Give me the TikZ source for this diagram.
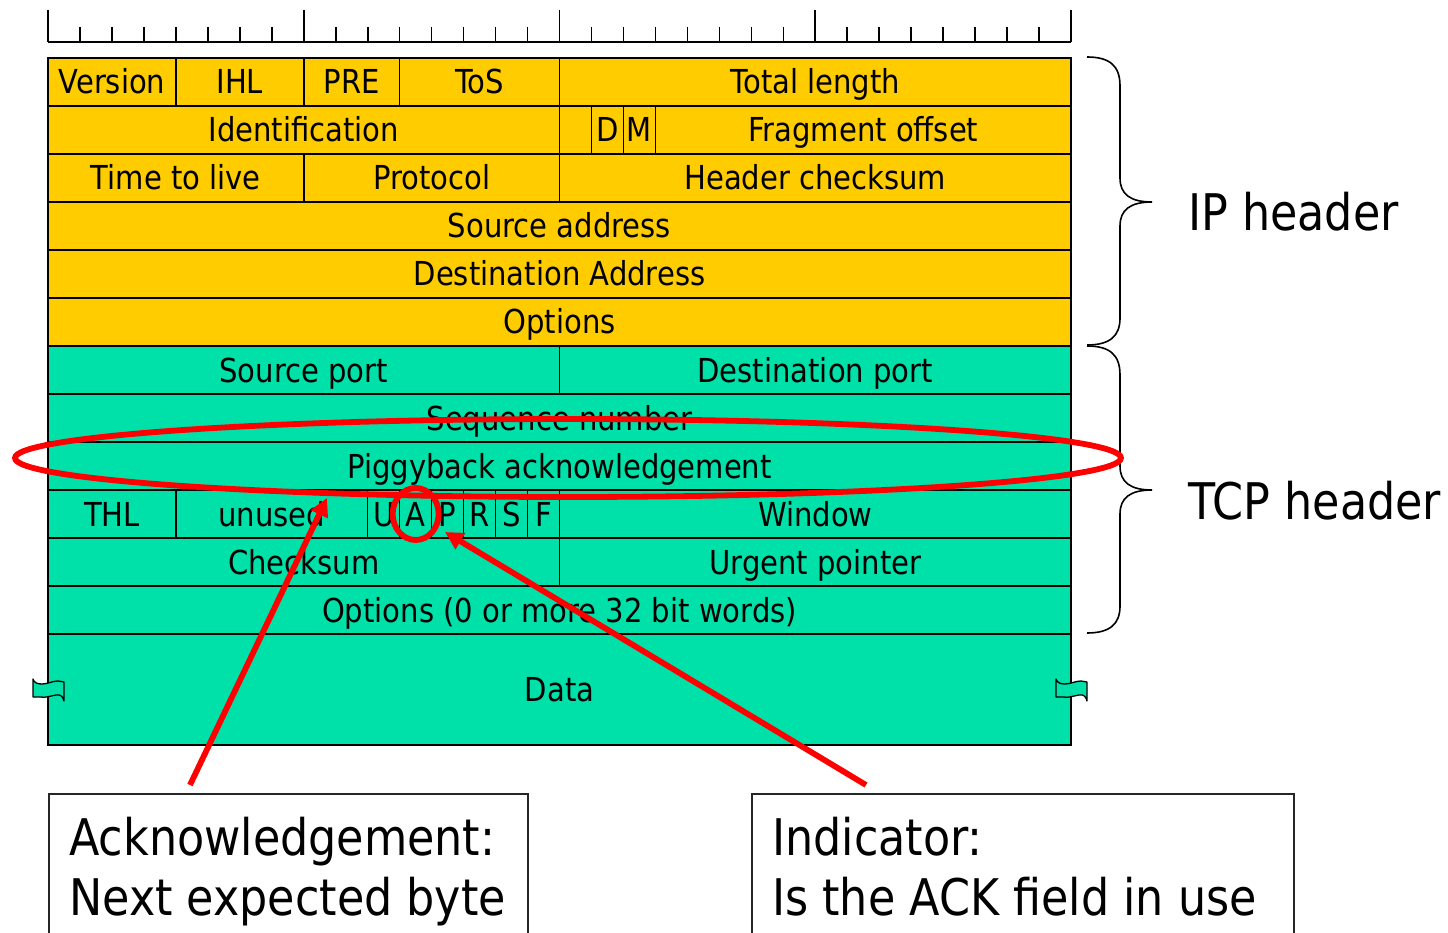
\documentclass[tikz,border=0pt]{standalone}
\usepackage{fontspec}
\setmainfont{DejaVu Sans}[FakeStretch=0.88]
\usetikzlibrary{arrows.meta,calc}
\definecolor{ipyellow}{HTML}{FFCC00}
\definecolor{tcpgreen}{HTML}{00E1AA}
\definecolor{markred}{HTML}{FF0000}
\newcommand\fieldfont{\fontsize{33}{38}\selectfont}
\newcommand\notefont{\fontsize{50.5}{60}\selectfont}
% one header field: name, first bit, last bit+1, row, fill, label
\newcommand\fld[6]{\node[field, fill=#5, minimum width={(#3-#2)*31.97pt}] (#1) at ({48+(#2+#3)*15.985},{82+48*#4}) {#6};}
\begin{document}
\begin{tikzpicture}[x=1pt,y=-1pt,
  field/.style={draw=black, line width=1.5pt, inner sep=0pt, minimum height=48pt,
    text height=24pt, text depth=0pt, font=\fieldfont},
  notebox/.style={draw=black!85, line width=1.5pt, inner sep=0pt},
  notetext/.style={font=\notefont, inner sep=0pt, anchor=base west},
  bracepath/.style={draw=black, line width=1.6pt},
  ruler/.style={draw=black, line width=1.6pt},
  redline/.style={draw=markred, line width=5.8pt},
  redarrow/.style={draw=markred, line width=5.8pt, -{Triangle[length=18pt,width=18pt]}},
  breakmark/.style={draw=black, fill=tcpgreen, line width=1.3pt, line join=round}]
\useasboundingbox (0,0) rectangle (1448,933);

% bit ruler
\draw[ruler] (48,42) -- (1071,42);
\foreach \b in {1,...,31}{\draw[ruler] ({48+\b*31.97},27) -- ({48+\b*31.97},42);}
\foreach \b in {0,8,16,24,32}{\draw[ruler] ({48+\b*31.97},10) -- ({48+\b*31.97},42);}

% IP header
\fld{ver}{0}{4}{0}{ipyellow}{Version}
\fld{ihl}{4}{8}{0}{ipyellow}{IHL}
\fld{pre}{8}{11}{0}{ipyellow}{PRE}
\fld{tos}{11}{16}{0}{ipyellow}{ToS}
\fld{tlen}{16}{32}{0}{ipyellow}{Total length}
\fld{ident}{0}{16}{1}{ipyellow}{Identification}
\fld{rsv}{16}{17}{1}{ipyellow}{}
\fld{dflag}{17}{18}{1}{ipyellow}{D}
\fld{mflag}{18}{19}{1}{ipyellow}{M}
\fld{frag}{19}{32}{1}{ipyellow}{Fragment offset}
\fld{ttl}{0}{8}{2}{ipyellow}{Time to live}
\fld{proto}{8}{16}{2}{ipyellow}{Protocol}
\fld{hcs}{16}{32}{2}{ipyellow}{Header checksum}
\fld{src}{0}{32}{3}{ipyellow}{Source address}
\fld{dst}{0}{32}{4}{ipyellow}{Destination Address}
\fld{ipopt}{0}{32}{5}{ipyellow}{Options}

% TCP header
\fld{sport}{0}{16}{6}{tcpgreen}{Source port}
\fld{dport}{16}{32}{6}{tcpgreen}{Destination port}
\fld{seq}{0}{32}{7}{tcpgreen}{Sequence number}
\fld{ack}{0}{32}{8}{tcpgreen}{Piggyback acknowledgement}
\fld{thl}{0}{4}{9}{tcpgreen}{THL}
\fld{unused}{4}{10}{9}{tcpgreen}{unused}
\fld{urg}{10}{11}{9}{tcpgreen}{U}
\fld{ackf}{11}{12}{9}{tcpgreen}{A}
\fld{psh}{12}{13}{9}{tcpgreen}{P}
\fld{rst}{13}{14}{9}{tcpgreen}{R}
\fld{syn}{14}{15}{9}{tcpgreen}{S}
\fld{fin}{15}{16}{9}{tcpgreen}{F}
\fld{win}{16}{32}{9}{tcpgreen}{Window}
\fld{tcs}{0}{16}{10}{tcpgreen}{Checksum}
\fld{urgp}{16}{32}{10}{tcpgreen}{Urgent pointer}
\fld{tcpopt}{0}{32}{11}{tcpgreen}{Options (0 or more 32 bit words)}
\node[field, fill=tcpgreen, minimum width=1023pt, minimum height=111pt] (data) at (559.5,689.5) {Data};

% break marks on the data block
\foreach \dx in {0,1023}{
  \draw[breakmark,xshift=\dx pt] (33,679) .. controls (34,683) and (38,684) .. (42,684)
    .. controls (48,684) and (52,681) .. (58,681) -- (64,682) -- (64,701)
    .. controls (63,697) and (61,694) .. (56,695) .. controls (50,696) and (46,698) .. (40,697) -- (33,697) -- cycle;
}

% braces and their labels
\draw[bracepath] (1087,57) .. controls (1110,57) and (1120,66) .. (1120,86) -- (1120,178)
  .. controls (1120,194) and (1130,202) .. (1152,202)
  .. controls (1130,202) and (1120,210) .. (1120,226) -- (1120,318)
  .. controls (1120,336) and (1110,345) .. (1087,345);
\draw[bracepath] (1087,346) .. controls (1110,346) and (1120,355) .. (1120,375) -- (1120,466)
  .. controls (1120,482) and (1130,490) .. (1152,490)
  .. controls (1130,490) and (1120,498) .. (1120,514) -- (1120,606)
  .. controls (1120,624) and (1110,633) .. (1087,633);
\node[notetext] (iplabel) at (1188,231) {IP header};
\node[notetext] (tcplabel) at (1188,519) {TCP header};

% explanation boxes
\node[notebox, anchor=north west, minimum width=479pt, minimum height=170pt] (ackbox) at (48,793) {};
\node[notetext] (acktext1) at (69,855) {Acknowledgement:};
\node[notetext] (acktext2) at (69,915) {Next expected byte};
\node[notebox, anchor=north west, minimum width=542pt, minimum height=170pt] (flagbox) at (751,793) {};
\node[notetext] (flagtext1) at (772,855) {Indicator:};
\node[notetext] (flagtext2) at (772,915) {Is the ACK field in use};

% highlights
\draw[redline] (568,458) ellipse [x radius=553pt, y radius=39pt];
\draw[redline] (ackf.center) ellipse [x radius=23pt, y radius=26pt];
\coordinate (acktip) at (327,498);
\coordinate (flagtip) at (445,532);
\draw[redarrow] ($(ackbox.north west)+(142,-8)$) -- (acktip);
\draw[redarrow] ($(flagbox.north west)+(115,-8)$) -- (flagtip);
\end{tikzpicture}
\end{document}
